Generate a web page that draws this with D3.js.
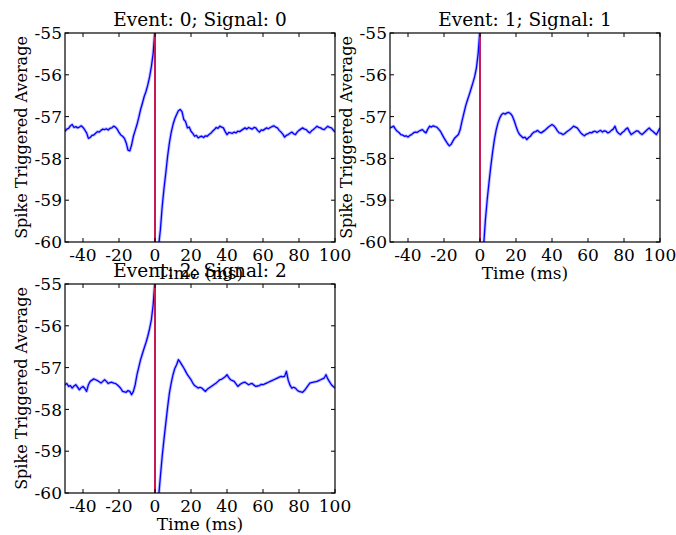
<!DOCTYPE html>
<html>
<head>
<meta charset="utf-8">
<script src="https://cdn.jsdelivr.net/npm/d3@7"></script>
<style>
	body { margin: 0; background: #fff; }
	text { font-family: "DejaVu Serif", serif; fill: #000; }
</style>
</head>
<body>
<div id="plot"></div>
<script>
//Time grid (ms): 1 ms samples before and after the spike
const timePre = d3.range(-50, 1);   // -50 .. 0
const timePost = d3.range(1, 101);  // 1 .. 100

//Spike triggered averages
const sta0Pre = [-57.35,-57.30,-57.28,-57.22,-57.19,-57.26,-57.24,-57.27,-57.25,-57.22,-57.26,-57.32,-57.39,-57.52,-57.5,-57.45,-57.44,-57.40,-57.36,-57.37,-57.33,-57.30,-57.31,-57.29,-57.32,-57.28,-57.27,-57.23,-57.25,-57.30,-57.38,-57.44,-57.47,-57.52,-57.63,-57.80,-57.82,-57.68,-57.47,-57.33,-57.19,-57.02,-56.83,-56.68,-56.52,-56.40,-56.24,-56.05,-55.8,-55.48,-54.9];
const sta0Post = [-61.0,-60.1,-59.7,-59.15,-58.72,-58.35,-57.95,-57.63,-57.38,-57.19,-57.05,-56.95,-56.86,-56.83,-56.88,-57.07,-57.12,-57.27,-57.25,-57.35,-57.40,-57.47,-57.45,-57.51,-57.48,-57.47,-57.50,-57.46,-57.47,-57.43,-57.40,-57.35,-57.31,-57.26,-57.28,-57.23,-57.25,-57.27,-57.36,-57.43,-57.38,-57.39,-57.40,-57.37,-57.39,-57.35,-57.36,-57.33,-57.30,-57.27,-57.30,-57.26,-57.28,-57.3,-57.26,-57.27,-57.33,-57.37,-57.32,-57.33,-57.30,-57.27,-57.29,-57.26,-57.24,-57.22,-57.25,-57.27,-57.33,-57.37,-57.42,-57.49,-57.45,-57.43,-57.40,-57.37,-57.41,-57.43,-57.37,-57.33,-57.30,-57.27,-57.30,-57.31,-57.36,-57.39,-57.34,-57.31,-57.27,-57.23,-57.26,-57.27,-57.30,-57.31,-57.27,-57.23,-57.26,-57.27,-57.32,-57.37];

const sta1Pre = [-57.27,-57.25,-57.23,-57.30,-57.35,-57.38,-57.43,-57.44,-57.47,-57.46,-57.49,-57.45,-57.43,-57.39,-57.37,-57.38,-57.35,-57.33,-57.31,-57.36,-57.39,-57.30,-57.23,-57.25,-57.22,-57.24,-57.25,-57.30,-57.35,-57.43,-57.51,-57.58,-57.65,-57.70,-57.66,-57.58,-57.51,-57.47,-57.43,-57.31,-57.11,-56.93,-56.75,-56.61,-56.48,-56.34,-56.2,-56.05,-55.84,-55.48,-54.9];
const sta1Post = [-61.2,-60.1,-59.47,-58.99,-58.58,-58.19,-57.85,-57.55,-57.32,-57.15,-57.03,-56.95,-56.92,-56.94,-56.91,-56.9,-56.93,-56.99,-57.10,-57.23,-57.35,-57.43,-57.47,-57.51,-57.49,-57.55,-57.50,-57.47,-57.41,-57.37,-57.36,-57.33,-57.37,-57.39,-57.36,-57.33,-57.29,-57.25,-57.22,-57.19,-57.22,-57.27,-57.34,-57.39,-57.40,-57.43,-57.41,-57.37,-57.34,-57.31,-57.27,-57.23,-57.25,-57.27,-57.33,-57.39,-57.43,-57.46,-57.42,-57.41,-57.38,-57.39,-57.36,-57.35,-57.38,-57.35,-57.33,-57.37,-57.34,-57.35,-57.39,-57.37,-57.33,-57.30,-57.23,-57.35,-57.40,-57.43,-57.38,-57.35,-57.30,-57.27,-57.36,-57.43,-57.40,-57.37,-57.34,-57.35,-57.40,-57.43,-57.39,-57.35,-57.31,-57.27,-57.32,-57.35,-57.39,-57.43,-57.35,-57.27];

const sta2Pre = [-57.41,-57.38,-57.45,-57.43,-57.49,-57.44,-57.41,-57.47,-57.53,-57.48,-57.45,-57.50,-57.57,-57.41,-57.33,-57.30,-57.27,-57.29,-57.31,-57.34,-57.37,-57.33,-57.29,-57.33,-57.38,-57.36,-57.35,-57.37,-57.38,-57.41,-57.45,-57.50,-57.57,-57.58,-57.59,-57.55,-57.57,-57.65,-57.57,-57.41,-57.17,-56.99,-56.81,-56.67,-56.53,-56.40,-56.25,-56.07,-55.85,-55.49,-54.9];
const sta2Post = [-61.1,-60.1,-59.6,-59.12,-58.71,-58.33,-57.95,-57.61,-57.37,-57.17,-57.02,-56.93,-56.81,-56.87,-56.94,-57.01,-57.09,-57.17,-57.23,-57.29,-57.37,-57.43,-57.46,-57.49,-57.47,-57.49,-57.53,-57.57,-57.52,-57.49,-57.46,-57.43,-57.40,-57.37,-57.33,-57.29,-57.28,-57.25,-57.22,-57.17,-57.24,-57.29,-57.31,-57.33,-57.39,-57.45,-57.41,-57.38,-57.36,-57.35,-57.38,-57.41,-57.39,-57.38,-57.42,-57.45,-57.44,-57.43,-57.40,-57.41,-57.39,-57.37,-57.35,-57.33,-57.31,-57.29,-57.27,-57.25,-57.23,-57.21,-57.22,-57.21,-57.09,-57.30,-57.42,-57.49,-57.47,-57.49,-57.54,-57.57,-57.58,-57.59,-57.55,-57.49,-57.43,-57.37,-57.36,-57.35,-57.34,-57.33,-57.31,-57.29,-57.27,-57.25,-57.17,-57.27,-57.34,-57.41,-57.45,-57.49];

const titles = ['Event: 0; Signal: 0', 'Event: 1; Signal: 1', 'Event: 2; Signal: 2'];
const xTicks = [-40,-20,0,20,40,60,80,100];
const yTicks = [-55,-56,-57,-58,-59,-60];

const panels = [
	{title: titles[0], pre: sta0Pre, post: sta0Post, left: 65, top: 33},
	{title: titles[1], pre: sta1Pre, post: sta1Post, left: 390, top: 33},
	{title: titles[2], pre: sta2Pre, post: sta2Post, left: 65, top: 284}
];

const W = 676, H = 535;
const pw = 270, ph = 209;

const svg = d3.select('#plot').append('svg').attr('width', W).attr('height', H);

const x = d3.scaleLinear().domain([-50, 100]).range([0, pw]);
const y = d3.scaleLinear().domain([-60, -55]).range([ph, 0]);

const line = d3.line()
	.x(d => x(d[0]))
	.y(d => y(d[1]));

svg.append('defs').append('clipPath').attr('id', 'clip')
	.append('rect').attr('width', pw).attr('height', ph);

//axes, data and ylabels first
const gs = panels.map(p => {
	const g = svg.append('g').attr('transform', `translate(${p.left},${p.top})`);
	const segs = [
		timePre.map((t, j) => [t, p.pre[j]]),
		timePost.map((t, j) => [t, p.post[j]])
	];
	const plot = g.append('g').attr('clip-path', 'url(#clip)');
	segs.forEach(s => {
		plot.append('path').attr('d', line(s))
			.style('fill', 'none').style('stroke', '#7f7fff').style('stroke-opacity', 0.5)
			.style('stroke-width', 3.2).style('stroke-linejoin', 'round');
		plot.append('path').attr('d', line(s))
			.style('fill', 'none').style('stroke', '#0000ff')
			.style('stroke-width', 1.3).style('stroke-linejoin', 'round');
	});
	//spike marker
	plot.append('line')
		.attr('x1', x(0)).attr('x2', x(0)).attr('y1', 0).attr('y2', ph)
		.style('stroke', '#c71a55').style('stroke-width', 2);

	//frame
	g.append('rect').attr('width', pw).attr('height', ph)
		.style('fill', 'none').style('stroke', '#000').style('stroke-width', 1.2);

	//ticks pointing inward on all four sides
	const tl = 4;
	xTicks.forEach(t => {
		g.append('line').attr('x1', x(t)).attr('x2', x(t)).attr('y1', ph).attr('y2', ph - tl).style('stroke', '#000');
		g.append('line').attr('x1', x(t)).attr('x2', x(t)).attr('y1', 0).attr('y2', tl).style('stroke', '#000');
		g.append('text').attr('x', x(t)).attr('y', ph + 19)
			.attr('text-anchor', 'middle').style('font-size', '17px').text(t);
	});
	yTicks.forEach(t => {
		g.append('line').attr('x1', 0).attr('x2', tl).attr('y1', y(t)).attr('y2', y(t)).style('stroke', '#000');
		g.append('line').attr('x1', pw).attr('x2', pw - tl).attr('y1', y(t)).attr('y2', y(t)).style('stroke', '#000');
		g.append('text').attr('x', -3).attr('y', y(t)).attr('dy', '0.36em')
			.attr('text-anchor', 'end').style('font-size', '17px').text(t);
	});

	g.append('text')
		.attr('transform', `translate(-38,${ph / 2}) rotate(-90)`)
		.attr('text-anchor', 'middle').style('font-size', '16px')
		.text('Spike Triggered Average');
	return g;
});

//xlabels, then titles on top (bottom title overlaps upper xlabel as in the original)
gs.forEach(g => {
	g.append('text').attr('x', pw / 2).attr('y', ph + 37)
		.attr('text-anchor', 'middle').style('font-size', '17px').text('Time (ms)');
});
panels.forEach((p, i) => {
	gs[i].append('text').attr('x', pw / 2).attr('y', -7)
		.attr('text-anchor', 'middle').style('font-size', '18.5px').text(p.title);
});
</script>
</body>
</html>
